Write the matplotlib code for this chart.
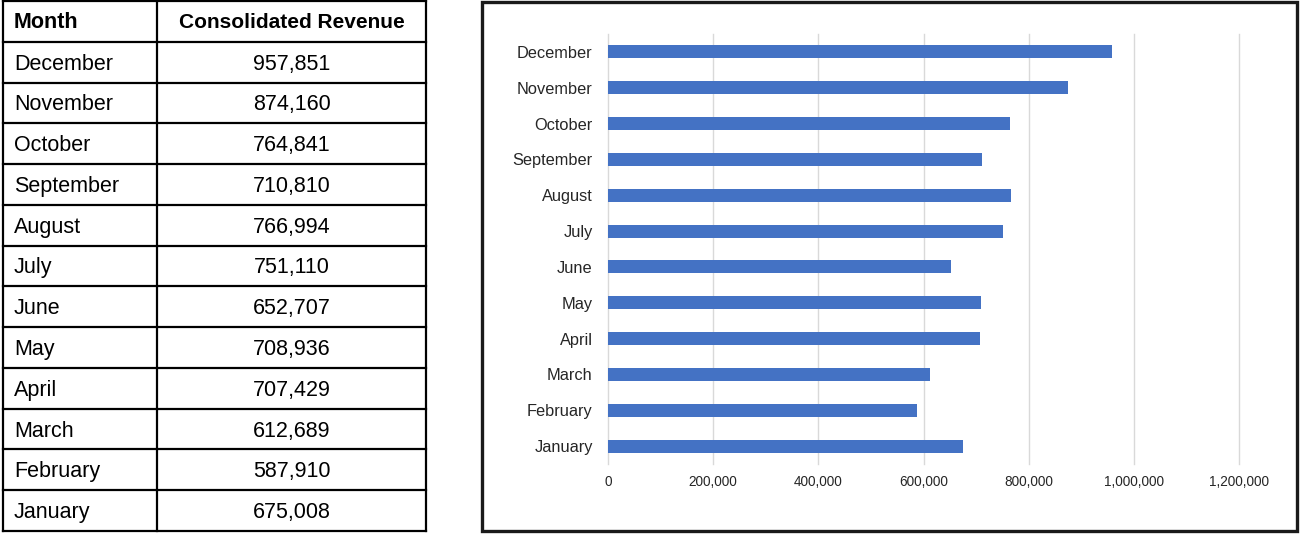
import matplotlib.pyplot as plt
from matplotlib.patches import Rectangle
from matplotlib.ticker import FuncFormatter

# Monthly consolidated revenue, January first
months = ['January', 'February', 'March', 'April', 'May', 'June',
          'July', 'August', 'September', 'October', 'November', 'December']
revenue = [675008, 587910, 612689, 707429, 708936, 652707,
           751110, 766994, 710810, 764841, 874160, 957851]
x_ticks = [0, 200000, 400000, 600000, 800000, 1000000, 1200000]

W, H = 1301, 534
fig = plt.figure(figsize=(W / 100, H / 100), dpi=100)
sans = ['Liberation Sans', 'DejaVu Sans']

# Overlay axes in pixel coordinates for the table and the chart frame
bg = fig.add_axes([0, 0, 1, 1])
bg.set_xlim(0, W)
bg.set_ylim(H, 0)
bg.axis('off')

# Table
tl, tr, tdiv = 3, 426, 157
ttop, tbot = 1, 531
n_rows = len(months) + 1
row_h = (tbot - ttop) / n_rows
lw = 1.6
for i in range(n_rows + 1):
    y = ttop + i * row_h
    bg.plot([tl, tr], [y, y], color='black', lw=lw, solid_capstyle='projecting')
for x in (tl, tdiv, tr):
    bg.plot([x, x], [ttop, tbot], color='black', lw=lw, solid_capstyle='projecting')

bg.text(14, ttop + row_h / 2 + 1, 'Month', ha='left', va='center',
        fontsize=15.5, fontweight='bold', family=sans)
bg.text((tdiv + tr) / 2, ttop + row_h / 2 + 1, 'Consolidated Revenue', ha='center',
        va='center', fontsize=15, fontweight='bold', family=sans)
for i, (m, v) in enumerate(zip(months[::-1], revenue[::-1])):
    yc = ttop + (i + 1.5) * row_h + 2
    bg.text(14, yc, m, ha='left', va='center', fontsize=15.5, family=sans)
    bg.text((tdiv + tr) / 2, yc, f'{v:,}', ha='center', va='center',
            fontsize=15.5, family=sans)

# Chart frame
bg.add_patch(Rectangle((481.5, 1.5), 815.5, 529.5, fill=False,
                       edgecolor='#1a1a1a', lw=2.4))

# Bar chart
ax = fig.add_axes([608 / W, 1 - 464 / H, (1239 - 608) / W, (464 - 34) / H])
ax.barh(range(len(months)), revenue, height=0.36, color='#4472C4', zorder=3)
ax.set_xlim(0, 1200000)
ax.set_ylim(-0.5, len(months) - 0.5)
ax.set_yticks(range(len(months)))
ax.set_yticklabels(months, family=sans, fontsize=11.8)
ax.set_xticks(x_ticks)
ax.xaxis.set_major_formatter(FuncFormatter(lambda v, p: f'{int(v):,}'))
for lab in ax.get_xticklabels():
    lab.set_family(sans)
    lab.set_fontsize(9.8)
ax.tick_params(length=0, colors='#262626')
ax.tick_params(axis='y', pad=11)
ax.tick_params(axis='x', pad=8)
for t in x_ticks:
    ax.axvline(t, color='#d9d9d9', lw=1, zorder=0, clip_on=False)
for s in ax.spines.values():
    s.set_visible(False)

fig.savefig('out.png', dpi=100)
